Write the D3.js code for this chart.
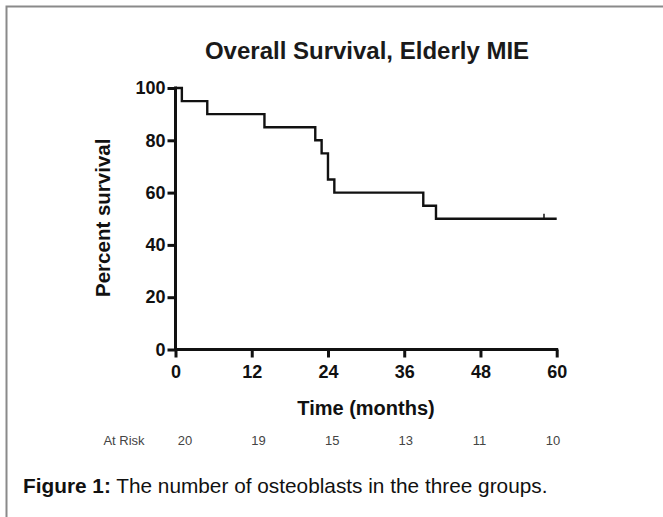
<!DOCTYPE html>
<html><head><meta charset="utf-8">
<script src="https://cdn.jsdelivr.net/npm/d3@7"></script>
<style>body{margin:0;background:#fff;}svg{display:block;}</style>
</head><body>
<svg id="c" width="663" height="517"></svg>
<script>
const title = "Overall Survival, Elderly MIE";
const xTicks = [0, 12, 24, 36, 48, 60];
const yTicks = [0, 20, 40, 60, 80, 100];
// Kaplan-Meier steps: time (months), survival (%) after the step
const stepTimes = [0, 1, 5, 14, 22, 23, 24, 25, 39, 41];
const stepSurv  = [100, 95, 90, 85, 80, 75, 65, 60, 55, 50];
const endTime = 60;
const censorTimes = [58];
const atRiskLabel = "At Risk";
const atRiskTimes = [0, 12, 24, 36, 48, 60];
const atRisk = [20, 19, 15, 13, 11, 10];
const captionBold = "Figure 1:";
const captionText = " The number of osteoblasts in the three groups.";

const svg = d3.select("#c");
// frame
svg.append("path").attr("d","M6.5,517 V6.5 H663").attr("fill","none").attr("stroke","#8a8a8a").attr("stroke-width",2);

const x = d3.scaleLinear().domain([0,60]).range([175.5,556.7]);
const y = d3.scaleLinear().domain([0,100]).range([349.5,88]);
// at-risk numbers sit on a slightly shifted time scale
const xr = d3.scaleLinear().domain([0,60]).range([185,553]);

const font = "Liberation Sans, Arial, sans-serif";
svg.append("text").attr("x",367).attr("y",59).attr("text-anchor","middle")
  .attr("font-family",font).attr("font-weight","bold").attr("font-size",24)
  .attr("fill","#1a1a1a").text(title);

const gx = svg.append("g").attr("transform",`translate(0,${y(0)})`)
  .call(d3.axisBottom(x).tickValues(xTicks).tickSize(8).tickPadding(8).tickSizeOuter(0));
const gy = svg.append("g").attr("transform",`translate(${x(0)},0)`)
  .call(d3.axisLeft(y).tickValues(yTicks).tickSize(8).tickPadding(2).tickSizeOuter(0));
[gx,gy].forEach(g=>{
  g.select(".domain").attr("stroke","#111").attr("stroke-width",3);
  g.selectAll(".tick line").attr("stroke","#111").attr("stroke-width",3);
  g.selectAll(".tick text").attr("font-family",font).attr("font-weight","bold").attr("font-size",18).attr("fill","#111");
});
gx.select(".domain").attr("d",`M${x(0)-1.5},0H${x(60)+1.5}`);
gy.select(".domain").attr("d",`M0,${y(100)-1.5}V${y(0)+1.5}`);

// survival curve
const pts = [];
stepTimes.forEach((t,i)=>{
  if(i>0) pts.push([t, stepSurv[i-1]]);
  pts.push([t, stepSurv[i]]);
});
pts.push([endTime, stepSurv[stepSurv.length-1]]);
svg.append("path").datum(pts)
  .attr("d", d3.line().x(d=>x(d[0])).y(d=>y(d[1])))
  .attr("fill","none").attr("stroke","#111").attr("stroke-width",2.4);

function survAt(t){let s=100;stepTimes.forEach((st,i)=>{if(st<=t)s=stepSurv[i];});return s;}
censorTimes.forEach(t=>{
  svg.append("line").attr("x1",x(t)).attr("x2",x(t)).attr("y1",y(survAt(t))).attr("y2",y(survAt(t))-5)
    .attr("stroke","#111").attr("stroke-width",1.5);
});

svg.append("text").attr("transform",`translate(110,${y(50)-1}) rotate(-90)`).attr("text-anchor","middle")
  .attr("font-family",font).attr("font-weight","bold").attr("font-size",20.5).attr("fill","#111").text("Percent survival");
svg.append("text").attr("x",366).attr("y",415).attr("text-anchor","middle")
  .attr("font-family",font).attr("font-weight","bold").attr("font-size",20).attr("fill","#111").text("Time (months)");

// at risk row
const arFont = "Liberation Sans Narrow, Liberation Sans, sans-serif";
svg.append("text").attr("x",124).attr("y",445).attr("text-anchor","middle")
  .attr("font-family",arFont).attr("font-size",13).attr("fill","#444").text(atRiskLabel);
svg.selectAll(".ar").data(atRisk).join("text").attr("class","ar")
  .attr("x",(d,i)=>xr(atRiskTimes[i])).attr("y",445).attr("text-anchor","middle")
  .attr("font-family",arFont).attr("font-size",13).attr("fill","#444").text(d=>d);

const cap = svg.append("text").attr("x",23).attr("y",493).attr("font-family",font).attr("font-size",20.8).attr("fill","#111");
cap.append("tspan").attr("font-weight","bold").text(captionBold);
cap.append("tspan").text(captionText);
</script>
</body></html>
